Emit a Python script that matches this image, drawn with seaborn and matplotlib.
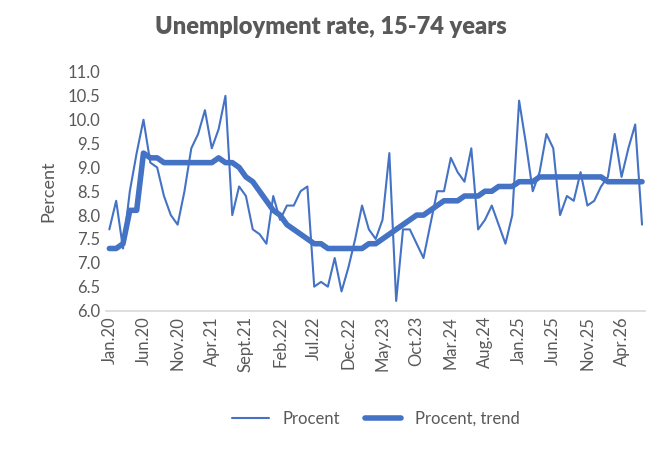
import matplotlib
matplotlib.use("Agg")
import matplotlib.pyplot as plt
import seaborn as sns
import pandas as pd
import numpy as np

procent = [7.7,8.3,7.3,8.5,9.3,10.0,9.1,9.0,8.4,8.0,7.8,8.5,9.4,9.7,10.2,9.4,9.8,10.5,8.0,8.6,
           8.4,7.7,7.6,7.4,8.4,7.9,8.2,8.2,8.5,8.6,6.5,6.6,6.5,7.1,6.4,6.9,7.5,8.2,7.7,7.5,
           7.9,9.3,6.2,7.7,7.7,7.4,7.1,7.8,8.5,8.5,9.2,8.9,8.7,9.4,7.7,7.9,8.2,7.8,7.4,8.0,
           10.4,9.5,8.5,8.9,9.7,9.4,8.0,8.4,8.3,8.9,8.2,8.3,8.6,8.8,9.7,8.8,9.4,9.9,7.8]
trend = [7.3,7.3,7.4,8.1,8.1,9.3,9.2,9.2,9.1,9.1,9.1,9.1,9.1,9.1,9.1,9.1,9.2,9.1,9.1,9.0,
         8.8,8.7,8.5,8.3,8.1,8.0,7.8,7.7,7.6,7.5,7.4,7.4,7.3,7.3,7.3,7.3,7.3,7.3,7.4,7.4,
         7.5,7.6,7.7,7.8,7.9,8.0,8.0,8.1,8.2,8.3,8.3,8.3,8.4,8.4,8.4,8.5,8.5,8.6,8.6,8.6,
         8.7,8.7,8.7,8.8,8.8,8.8,8.8,8.8,8.8,8.8,8.8,8.8,8.8,8.7,8.7,8.7,8.7,8.7,8.7]
tick_labels = ["Jan.20","Jun.20","Nov.20","Apr.21","Sept.21","Feb.22","Jul.22","Dec.22",
               "May.23","Oct.23","Mar.24","Aug.24","Jan.25","Jun.25","Nov.25","Apr.26"]

sns.set_theme(style="white")
plt.rcParams['font.family'] = ['Lato', 'DejaVu Sans']
x = np.arange(len(procent))
df = pd.DataFrame({"x": list(x)*2, "y": procent + trend,
                   "s": ["Procent"]*len(procent) + ["Procent, trend"]*len(trend)})

fig, ax = plt.subplots(figsize=(6.62, 4.5), dpi=100)
c = "#4472C4"
sns.lineplot(data=df, x="x", y="y", hue="s", size="s", sizes={"Procent": 1.5, "Procent, trend": 4.0},
             palette={"Procent": c, "Procent, trend": c}, ax=ax, legend=True)
ax.set_ylim(6.0, 11.0)
ax.set_yticks(np.arange(6.0, 11.01, 0.5))
ax.set_yticklabels([f"{v:.1f}" for v in np.arange(6.0, 11.01, 0.5)], fontsize=12, color="#595959")
ax.set_xlim(-0.5, len(procent) - 0.5)
ax.set_xticks(np.arange(0, len(procent), 5)[:len(tick_labels)])
ax.set_xticklabels(tick_labels, rotation=90, fontsize=12, color="#595959")
ax.set_xlabel("")
ax.set_ylabel("Percent", fontsize=13, color="#595959", labelpad=8)
for s in ["top", "right", "left"]:
    ax.spines[s].set_visible(False)
ax.spines["bottom"].set_color("#D9D9D9")
ax.spines["bottom"].set_linewidth(1.2)
ax.tick_params(axis="both", length=0, pad=4)
fig.suptitle("Unemployment rate, 15-74 years", fontsize=17, fontweight="heavy", color="#595959",
             x=0.5, y=0.965)
h, l = ax.get_legend_handles_labels()
ax.legend(h, l, loc="center", bbox_to_anchor=(0.5, -0.455), ncol=2, frameon=False,
          fontsize=12, labelcolor="#595959", handlelength=2.2, columnspacing=1.5)
fig.subplots_adjust(left=0.16, right=0.975, top=0.84, bottom=0.31)
fig.savefig("out.png", dpi=100)
